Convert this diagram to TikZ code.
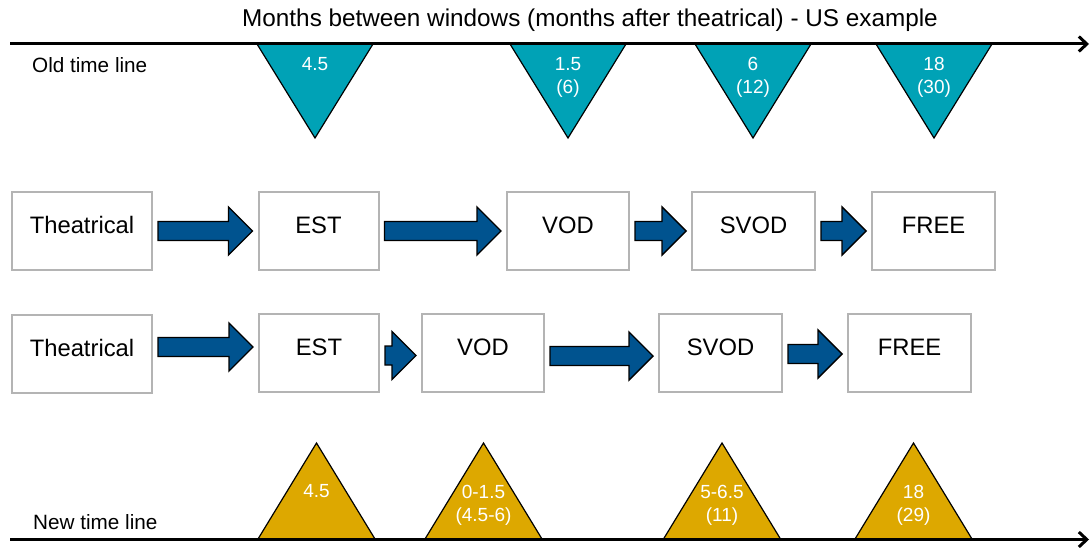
\documentclass[tikz,border=0pt]{standalone}
\usepackage{fontspec}
\setmainfont{Liberation Sans}
\usetikzlibrary{arrows.meta,calc}

\definecolor{oldteal}{HTML}{00A2B6}
\definecolor{newgold}{HTML}{DDA800}
\definecolor{arrowblue}{HTML}{00538F}
\definecolor{boxgray}{HTML}{B4B4B4}

\tikzstyle{timeline}=[line width=3pt, -{Straight Barb[length=8pt,width=15pt]}]
\tikzstyle{stage}=[rectangle, draw=boxgray, line width=2pt, fill=white, minimum height=78pt, inner sep=0pt, text height=20pt, text depth=15pt, font=\fontsize{23.8}{28}\selectfont]
\tikzstyle{blockarrow}=[fill=arrowblue, draw=black, line width=1.4pt, line join=miter]
\tikzstyle{oldmark}=[fill=oldteal, draw=black, line width=1.2pt]
\tikzstyle{newmark}=[fill=newgold, draw=black, line width=1.2pt]
\tikzstyle{marktext}=[text=white, align=center, inner sep=0pt, font=\fontsize{19}{23}\selectfont]
\tikzstyle{linelabel}=[anchor=west, inner sep=0pt, font=\fontsize{20.7}{24}\selectfont]

% block arrow from one box to the next, optional shift downwards
\newcommand{\blockarrow}[3][0]{%
  \path[blockarrow] let \p1=(#2.east), \p2=(#3.west) in
    (\x1+5pt, \y1-#1pt+9.5pt) -- (\x2-29pt, \y1-#1pt+9.5pt) -- (\x2-29pt, \y1-#1pt+24pt)
    -- (\x2-5pt, \y1-#1pt) -- (\x2-29pt, \y1-#1pt-24pt) -- (\x2-29pt, \y1-#1pt-9.5pt)
    -- (\x1+5pt, \y1-#1pt-9.5pt) -- cycle;}

\begin{document}
\begin{tikzpicture}[x=1pt, y=-1pt]
	\useasboundingbox (0,0) rectangle (1091,548);

	\node[font=\fontsize{24.3}{28}\selectfont] (title) at (590,20) {Months between windows (months after theatrical) - US example};

	% old time line
	\foreach \cx in {315,568,753,934}
		\filldraw[oldmark] (\cx-58,44) -- (\cx+58,44) -- (\cx,138) -- cycle;
	\coordinate (oldstart) at (10,44);
	\coordinate (oldend) at (1089,44);
	\draw[timeline] (oldstart) -- (oldend);
	\node[linelabel] (oldlabel) at (32,65) {Old time line};
	\node[marktext] (old1) at (315,64) {4.5};
	\node[marktext] (old2) at (568,77) {1.5\\(6)};
	\node[marktext] (old3) at (753,77) {6\\(12)};
	\node[marktext] (old4) at (934,77) {18\\(30)};

	% first chain
	\node[stage, minimum width=140pt] (th1) at (82,231) {Theatrical};
	\node[stage, minimum width=120pt] (est1) at (318.5,231) {EST};
	\node[stage, minimum width=122pt] (vod1) at (568,231) {VOD};
	\node[stage, minimum width=123pt] (svod1) at (753.5,231) {SVOD};
	\node[stage, minimum width=123pt] (free1) at (933.5,231) {FREE};
	\blockarrow{th1}{est1}
	\blockarrow{est1}{vod1}
	\blockarrow{vod1}{svod1}
	\blockarrow{svod1}{free1}

	% second chain
	\node[stage, minimum width=140pt] (th2) at (82,354) {Theatrical};
	\node[stage, minimum width=120pt] (est2) at (319,353) {EST};
	\node[stage, minimum width=122pt] (vod2) at (483,353) {VOD};
	\node[stage, minimum width=123pt] (svod2) at (720.5,353) {SVOD};
	\node[stage, minimum width=123pt] (free2) at (909.5,353) {FREE};
	\blockarrow[-7]{th2}{est2}
	\blockarrow[2.5]{est2}{vod2}
	\blockarrow[3]{vod2}{svod2}
	\blockarrow[1]{svod2}{free2}

	% new time line
	\foreach \cx in {316.5,483.5,722,913.5}
		\filldraw[newmark] (\cx-58.5,539) -- (\cx+58.5,539) -- (\cx,443) -- cycle;
	\coordinate (newstart) at (10,539.5);
	\coordinate (newend) at (1089,539.5);
	\draw[timeline] (newstart) -- (newend);
	\node[linelabel] (newlabel) at (33,522) {New time line};
	\node[marktext] (new1) at (316.5,491) {4.5};
	\node[marktext] (new2) at (483.5,505) {0-1.5\\(4.5-6)};
	\node[marktext] (new3) at (722,505) {5-6.5\\(11)};
	\node[marktext] (new4) at (913.5,505) {18\\(29)};
\end{tikzpicture}
\end{document}
